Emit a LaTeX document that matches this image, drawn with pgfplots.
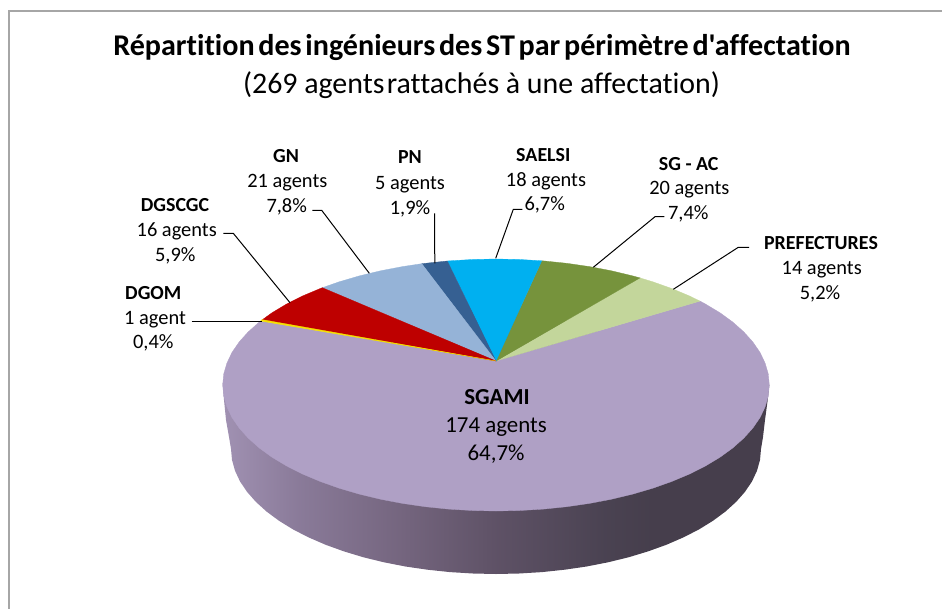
\documentclass[border=0pt]{standalone}
\usepackage{pgfplots}
\pgfplotsset{compat=1.18}
\usepackage{fontspec}
\setmainfont{Carlito}[Ligatures={TeXOff,NoCommon}]
\definecolor{cSGAMI}{HTML}{AFA0C5}
\definecolor{cDGOM}{HTML}{F5E000}
\definecolor{cDGSCGC}{HTML}{BE0000}
\definecolor{cGN}{HTML}{95B3D7}
\definecolor{cPN}{HTML}{366092}
\definecolor{cSAELSI}{HTML}{00B0F0}
\definecolor{cSGAC}{HTML}{76933C}
\definecolor{cPREF}{HTML}{C3D69B}
\definecolor{cBorder}{HTML}{A6A6A6}
\pgfdeclarehorizontalshading{sideshade}{100bp}{
 rgb(0bp)=(0.63,0.57,0.70);
 rgb(25bp)=(0.63,0.57,0.70);
 rgb(32bp)=(0.54,0.48,0.60);
 rgb(41bp)=(0.46,0.40,0.50);
 rgb(50bp)=(0.37,0.32,0.40);
 rgb(60bp)=(0.29,0.26,0.32);
 rgb(64bp)=(0.275,0.245,0.30);
 rgb(100bp)=(0.275,0.245,0.30)}
\newcommand{\lbl}[4]{%
 \node[anchor=center,inner sep=0pt,yshift=-3bp] at (axis cs:#1,#2) {\fontsize{#3}{#3}\selectfont\rule[-.25em]{0pt}{1em}#4};}
\begin{document}
\begin{tikzpicture}
\path[use as bounding box] (0,0) rectangle (942bp,609bp);
\begin{axis}[
 hide axis, scale only axis, width=942bp, height=609bp, at={(0,0)}, anchor=south west,
 xmin=0, xmax=942, ymin=0, ymax=609, y dir=reverse,
 clip=true]
% frame
\addplot[draw=cBorder, line width=2bp] coordinates {(9,609) (9,11) (942,11)};
% side of the disc
\addplot[draw=none, shade, shading=sideshade] coordinates {
(222.7,383) (224,400) (226,420) (229,437) (231,449) (232,459.9) (235,470.7) (240,481.4) (247,491.8) (255.8,501.8)
(266.5,511.5) (278.9,520.7) (293,529.4) (308.6,537.4) (325.7,544.8) (344,551.4) (363.5,557.3) (384,562.3)
(405.4,566.5) (427.4,569.7) (450,572.1) (472.9,573.5) (496,574) (519.1,573.5) (542,572.1) (564.6,569.7)
(586.6,566.5) (608,562.3) (628.5,557.3) (648,551.4) (666.3,544.8) (683.4,537.4) (699,529.4) (713.1,520.7)
(725.5,511.5) (736.2,501.8) (745,491.8) (752,481.4) (757,470.7) (760,459.9) (761,449) (763,437) (765,420)
(767.7,400) (769.3,385) (496,300)};
% SGAMI
\addplot[draw=cSGAMI, line width=0.3bp, fill=cSGAMI] coordinates {
(496,361) (260.5,321) (259.3,322) (248.3,331.8) (239.2,341.9) (232,352.4) (226.9,363.1) (223.7,374) (222.7,385)
(223.7,396) (226.9,406.9) (232,417.6) (239.2,428.1) (248.3,438.2) (259.3,448) (272.1,457.3) (286.6,466)
(302.7,474.1) (320.3,481.5) (339.2,488.2) (359.3,494.1) (380.5,499.2) (402.5,503.4) (425.3,506.7) (448.6,509.1)
(472.2,510.5) (496,511) (519.8,510.5) (543.4,509.1) (566.7,506.7) (589.5,503.4) (611.5,499.2) (632.7,494.1)
(652.8,488.2) (671.7,481.5) (689.3,474.1) (705.4,466) (719.9,457.3) (732.7,448) (743.7,438.2) (752.8,428.1)
(760,417.6) (765.1,406.9) (768.3,396) (769.3,385) (768.3,374) (765.1,363.1) (760,352.4) (752.8,341.9)
(743.7,331.8) (732.7,322) (719.9,312.7) (705.4,304) (700,301.1) (496,361)};
% PREFECTURES
\addplot[draw=cPREF, line width=0.3bp, fill=cPREF] coordinates {
(496,361) (700,301.1) (689.3,295.9) (671.7,288.5) (652.8,281.8) (640,277.9) (496,361)};
% SG - AC
\addplot[draw=cSGAC, line width=0.3bp, fill=cSGAC] coordinates {
(496,361) (640,277.9) (632.7,275.9) (611.5,270.8) (589.5,266.6) (566.7,263.3) (543.4,260.9) (541.7,260.8) (496,361)};
% SAELSI
\addplot[draw=cSAELSI, line width=0.3bp, fill=cSAELSI] coordinates {
(496,361) (541.7,260.8) (519.8,259.5) (496,259) (472.2,259.5) (448.6,260.9) (447.3,261) (496,361)};
% PN
\addplot[draw=cPN, line width=0.3bp, fill=cPN] coordinates {
(496,361) (447.3,261) (425.3,263.3) (421.7,263.7) (496,361)};
% GN
\addplot[draw=cGN, line width=0.3bp, fill=cGN] coordinates {
(496,361) (421.7,263.7) (402.5,266.6) (380.5,270.8) (359.3,275.9) (339.2,281.8) (322.3,287.7) (496,361)};
% DGSCGC
\addplot[draw=cDGSCGC, line width=0.3bp, fill=cDGSCGC] coordinates {
(496,361) (322.3,287.7) (320.3,288.5) (302.7,295.9) (286.6,304) (272.1,312.7) (262,320) (496,361)};
% DGOM
\addplot[draw=cDGOM, line width=0.3bp, fill=cDGOM] coordinates {
(496,361) (262,319.6) (260.5,321) (496,361)};
% leader lines
\addplot[black, line width=1bp] coordinates {(191.7,321.3) (262,321.3)};
\addplot[black, line width=1bp] coordinates {(223.3,233.3) (233.3,233.3) (290,302.7)};
\addplot[black, line width=1bp] coordinates {(312.3,210.3) (321.7,210.3) (369.3,273.3)};
\addplot[black, line width=1bp] coordinates {(434.5,213.3) (434.8,263.3)};
\addplot[black, line width=1bp] coordinates {(522.3,209.3) (513.3,209.3) (495.7,258.3)};
\addplot[black, line width=1bp] coordinates {(664.3,216.7) (655,216.7) (593.3,267.3)};
\addplot[black, line width=1bp] coordinates {(749,247.3) (738.3,247.3) (673.3,289.3)};
% titles
\lbl{482}{45}{30.2}{\bfseries\spaceskip=.125em Répartition des ingénieurs des ST par périmètre d'affectation}
\lbl{481.5}{83}{30}{(269 agents\hspace{.08em}rattachés à une affectation)}
% labels
\lbl{153.3}{291.7}{20}{\textbf{DGOM}}
\lbl{155}{316}{20.5}{1 agent}
\lbl{153.3}{340.7}{20.5}{0,4\%}
\lbl{175}{203.3}{20}{\textbf{DGSCGC}}
\lbl{176.7}{228.3}{20.5}{16 agents}
\lbl{175.3}{253.3}{20.5}{5,9\%}
\lbl{286}{155}{20}{\textbf{GN}}
\lbl{287.3}{179.3}{20.5}{21 agents}
\lbl{286.7}{204.7}{20.5}{7,8\%}
\lbl{410}{156}{20}{\textbf{PN}}
\lbl{410}{181}{20.5}{5 agents}
\lbl{410}{206}{20.5}{1,9\%}
\lbl{543.3}{153.3}{20}{\textbf{SAELSI}}
\lbl{546}{178.3}{20.5}{18 agents}
\lbl{544.7}{202.3}{20.5}{6,7\%}
\lbl{688.7}{162.3}{20}{\textbf{SG - AC}}
\lbl{689.3}{186.7}{20.5}{20 agents}
\lbl{688.3}{211}{20.5}{7,4\%}
\lbl{821}{242}{20}{\textbf{PREFECTURES}}
\lbl{821.7}{266.7}{20.5}{14 agents}
\lbl{820}{291.7}{20.5}{5,2\%}
\lbl{497}{396}{23}{\textbf{SGAMI}}
\lbl{496}{424}{23}{174 agents}
\lbl{496}{451.7}{23}{64,7\%}
\end{axis}
\end{tikzpicture}
\end{document}
